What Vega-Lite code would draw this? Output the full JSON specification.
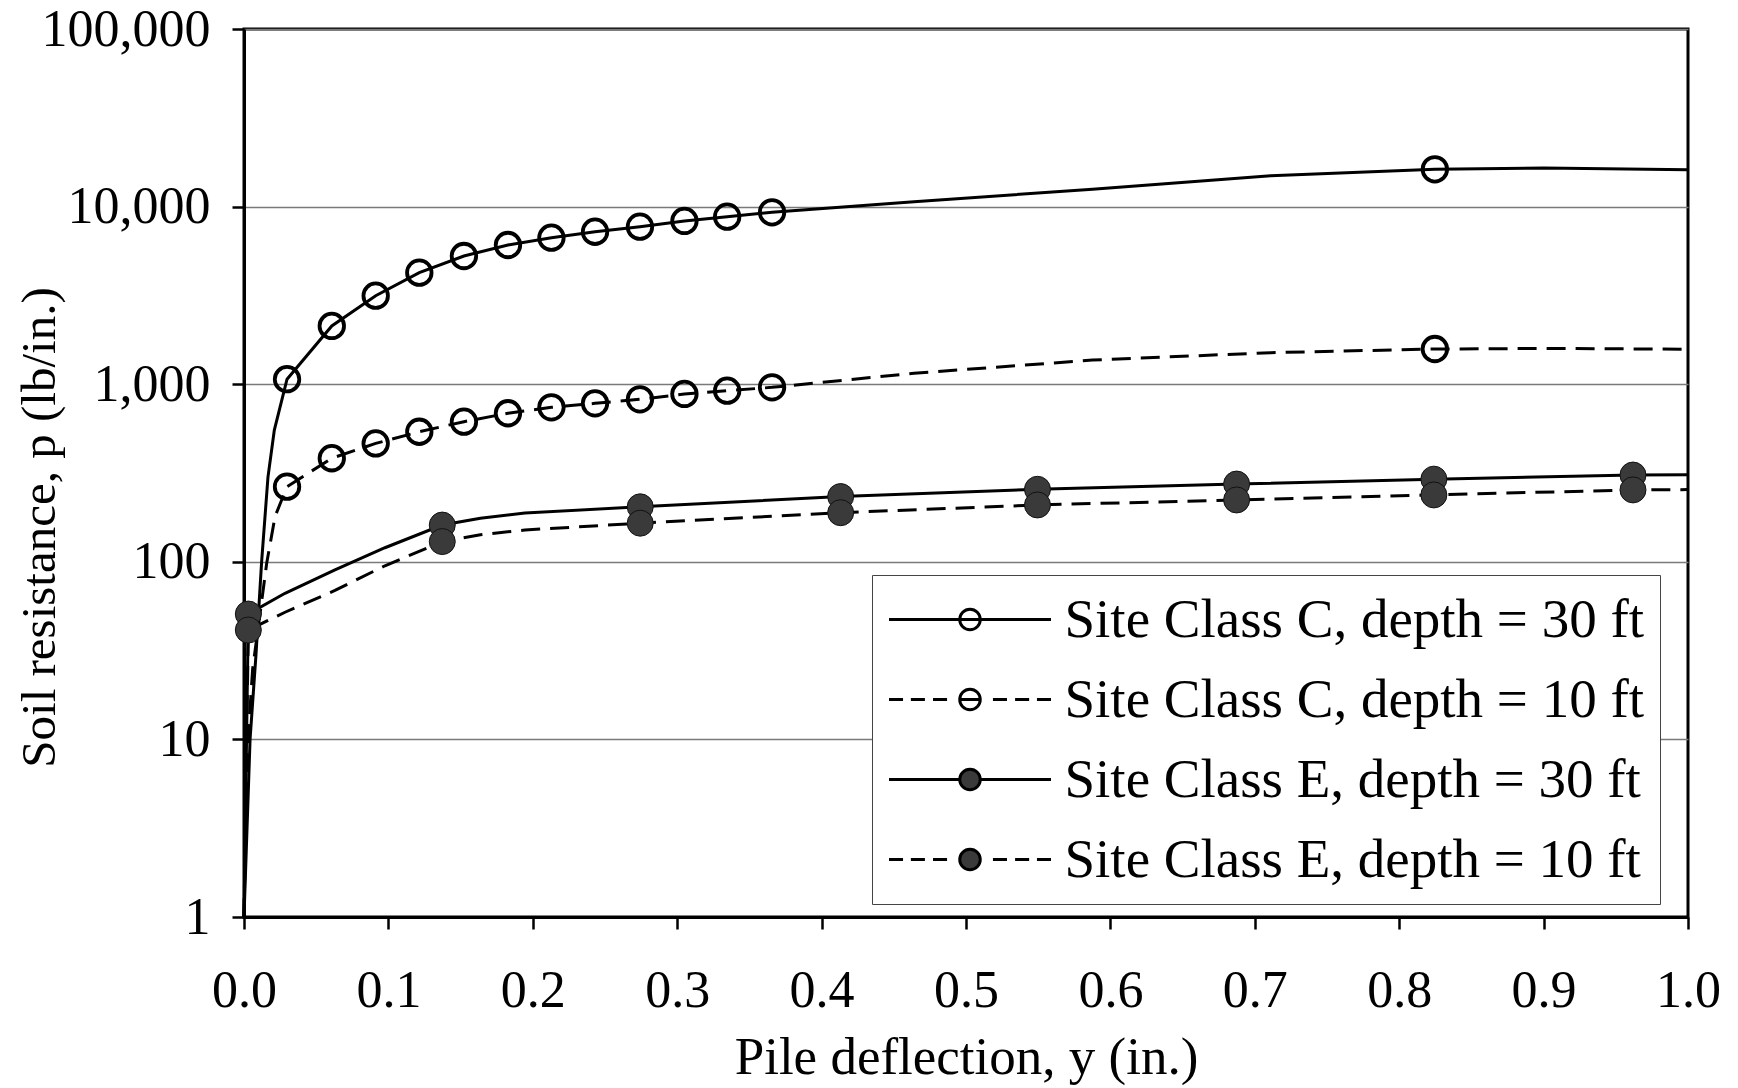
{
  "$schema": "https://vega.github.io/schema/vega-lite/v6.json",
  "width": 1444,
  "height": 888,
  "autosize": {"type": "none"},
  "padding": {"left": 244, "top": 29, "right": 50, "bottom": 171},
  "background": "white",
  "config": {
    "view": {"stroke": "black", "strokeWidth": 3},
    "font": "Liberation Serif",
    "axis": {
      "labelFont": "Liberation Serif",
      "titleFont": "Liberation Serif",
      "labelColor": "black",
      "titleColor": "black",
      "titleFontWeight": "normal",
      "domainColor": "black",
      "domainWidth": 3,
      "tickColor": "black",
      "tickWidth": 2.5,
      "tickSize": 12,
      "labelOverlap": false,
      "labelFlush": false
    },
    "legend": {
      "title": null,
      "orient": "none",
      "legendX": 628,
      "legendY": 546,
      "padding": 16,
      "rowPadding": 23,
      "labelOffset": 66,
      "symbolOffset": 53.5,
      "labelFontSize": 55,
      "labelFont": "Liberation Serif",
      "labelColor": "black",
      "labelLimit": 0,
      "symbolSize": 2916,
      "symbolStrokeWidth": 3,
      "symbolStrokeColor": "black",
      "strokeColor": "#444",
      "fillColor": "white"
    }
  },
  "data": {
    "values": [
      {"s": "Site Class C, depth = 30 ft", "c": "C", "d": 30, "x": 0, "p": 1, "m": 0},
      {"s": "Site Class C, depth = 30 ft", "c": "C", "d": 30, "x": 0.0042, "p": 10, "m": 0},
      {"s": "Site Class C, depth = 30 ft", "c": "C", "d": 30, "x": 0.0083, "p": 30, "m": 0},
      {"s": "Site Class C, depth = 30 ft", "c": "C", "d": 30, "x": 0.0122, "p": 100, "m": 0},
      {"s": "Site Class C, depth = 30 ft", "c": "C", "d": 30, "x": 0.0166, "p": 300, "m": 0},
      {"s": "Site Class C, depth = 30 ft", "c": "C", "d": 30, "x": 0.021, "p": 552, "m": 0},
      {"s": "Site Class C, depth = 30 ft", "c": "C", "d": 30, "x": 0.0298, "p": 1067, "m": 1},
      {"s": "Site Class C, depth = 30 ft", "c": "C", "d": 30, "x": 0.0608, "p": 2128, "m": 1},
      {"s": "Site Class C, depth = 30 ft", "c": "C", "d": 30, "x": 0.0912, "p": 3150, "m": 1},
      {"s": "Site Class C, depth = 30 ft", "c": "C", "d": 30, "x": 0.1214, "p": 4245, "m": 1},
      {"s": "Site Class C, depth = 30 ft", "c": "C", "d": 30, "x": 0.1523, "p": 5270, "m": 1},
      {"s": "Site Class C, depth = 30 ft", "c": "C", "d": 30, "x": 0.1828, "p": 6080, "m": 1},
      {"s": "Site Class C, depth = 30 ft", "c": "C", "d": 30, "x": 0.2129, "p": 6680, "m": 1},
      {"s": "Site Class C, depth = 30 ft", "c": "C", "d": 30, "x": 0.2431, "p": 7220, "m": 1},
      {"s": "Site Class C, depth = 30 ft", "c": "C", "d": 30, "x": 0.2742, "p": 7710, "m": 1},
      {"s": "Site Class C, depth = 30 ft", "c": "C", "d": 30, "x": 0.305, "p": 8300, "m": 1},
      {"s": "Site Class C, depth = 30 ft", "c": "C", "d": 30, "x": 0.3346, "p": 8780, "m": 1},
      {"s": "Site Class C, depth = 30 ft", "c": "C", "d": 30, "x": 0.3657, "p": 9290, "m": 1},
      {"s": "Site Class C, depth = 30 ft", "c": "C", "d": 30, "x": 0.464, "p": 10660, "m": 0},
      {"s": "Site Class C, depth = 30 ft", "c": "C", "d": 30, "x": 0.5876, "p": 12510, "m": 0},
      {"s": "Site Class C, depth = 30 ft", "c": "C", "d": 30, "x": 0.711, "p": 14930, "m": 0},
      {"s": "Site Class C, depth = 30 ft", "c": "C", "d": 30, "x": 0.8247, "p": 16220, "m": 1},
      {"s": "Site Class C, depth = 30 ft", "c": "C", "d": 30, "x": 0.9, "p": 16500, "m": 0},
      {"s": "Site Class C, depth = 30 ft", "c": "C", "d": 30, "x": 1.0, "p": 16100, "m": 0},

      {"s": "Site Class C, depth = 10 ft", "c": "C", "d": 10, "x": 0, "p": 1, "m": 0},
      {"s": "Site Class C, depth = 10 ft", "c": "C", "d": 10, "x": 0.002, "p": 8, "m": 0},
      {"s": "Site Class C, depth = 10 ft", "c": "C", "d": 10, "x": 0.006, "p": 25, "m": 0},
      {"s": "Site Class C, depth = 10 ft", "c": "C", "d": 10, "x": 0.0111, "p": 51, "m": 0},
      {"s": "Site Class C, depth = 10 ft", "c": "C", "d": 10, "x": 0.0157, "p": 98, "m": 0},
      {"s": "Site Class C, depth = 10 ft", "c": "C", "d": 10, "x": 0.0215, "p": 180, "m": 0},
      {"s": "Site Class C, depth = 10 ft", "c": "C", "d": 10, "x": 0.0298, "p": 265, "m": 1},
      {"s": "Site Class C, depth = 10 ft", "c": "C", "d": 10, "x": 0.0608, "p": 383, "m": 1},
      {"s": "Site Class C, depth = 10 ft", "c": "C", "d": 10, "x": 0.0912, "p": 464, "m": 1},
      {"s": "Site Class C, depth = 10 ft", "c": "C", "d": 10, "x": 0.1214, "p": 540, "m": 1},
      {"s": "Site Class C, depth = 10 ft", "c": "C", "d": 10, "x": 0.1523, "p": 615, "m": 1},
      {"s": "Site Class C, depth = 10 ft", "c": "C", "d": 10, "x": 0.1828, "p": 686, "m": 1},
      {"s": "Site Class C, depth = 10 ft", "c": "C", "d": 10, "x": 0.2129, "p": 741, "m": 1},
      {"s": "Site Class C, depth = 10 ft", "c": "C", "d": 10, "x": 0.2431, "p": 780, "m": 1},
      {"s": "Site Class C, depth = 10 ft", "c": "C", "d": 10, "x": 0.2742, "p": 822, "m": 1},
      {"s": "Site Class C, depth = 10 ft", "c": "C", "d": 10, "x": 0.305, "p": 881, "m": 1},
      {"s": "Site Class C, depth = 10 ft", "c": "C", "d": 10, "x": 0.3346, "p": 919, "m": 1},
      {"s": "Site Class C, depth = 10 ft", "c": "C", "d": 10, "x": 0.3657, "p": 960, "m": 1},
      {"s": "Site Class C, depth = 10 ft", "c": "C", "d": 10, "x": 0.464, "p": 1152, "m": 0},
      {"s": "Site Class C, depth = 10 ft", "c": "C", "d": 10, "x": 0.5876, "p": 1368, "m": 0},
      {"s": "Site Class C, depth = 10 ft", "c": "C", "d": 10, "x": 0.711, "p": 1505, "m": 0},
      {"s": "Site Class C, depth = 10 ft", "c": "C", "d": 10, "x": 0.8247, "p": 1578, "m": 1},
      {"s": "Site Class C, depth = 10 ft", "c": "C", "d": 10, "x": 0.9, "p": 1590, "m": 0},
      {"s": "Site Class C, depth = 10 ft", "c": "C", "d": 10, "x": 1.0, "p": 1575, "m": 0},

      {"s": "Site Class E, depth = 30 ft", "c": "E", "d": 30, "x": 0, "p": 1, "m": 0},
      {"s": "Site Class E, depth = 30 ft", "c": "E", "d": 30, "x": 0.003, "p": 50.8, "m": 1},
      {"s": "Site Class E, depth = 30 ft", "c": "E", "d": 30, "x": 0.0284, "p": 66.5, "m": 0},
      {"s": "Site Class E, depth = 30 ft", "c": "E", "d": 30, "x": 0.063, "p": 90, "m": 0},
      {"s": "Site Class E, depth = 30 ft", "c": "E", "d": 30, "x": 0.0976, "p": 120, "m": 0},
      {"s": "Site Class E, depth = 30 ft", "c": "E", "d": 30, "x": 0.1373, "p": 161, "m": 1},
      {"s": "Site Class E, depth = 30 ft", "c": "E", "d": 30, "x": 0.1637, "p": 176, "m": 0},
      {"s": "Site Class E, depth = 30 ft", "c": "E", "d": 30, "x": 0.1946, "p": 188, "m": 0},
      {"s": "Site Class E, depth = 30 ft", "c": "E", "d": 30, "x": 0.2744, "p": 204, "m": 1},
      {"s": "Site Class E, depth = 30 ft", "c": "E", "d": 30, "x": 0.4132, "p": 233, "m": 1},
      {"s": "Site Class E, depth = 30 ft", "c": "E", "d": 30, "x": 0.5495, "p": 256, "m": 1},
      {"s": "Site Class E, depth = 30 ft", "c": "E", "d": 30, "x": 0.6874, "p": 274, "m": 1},
      {"s": "Site Class E, depth = 30 ft", "c": "E", "d": 30, "x": 0.824, "p": 292, "m": 1},
      {"s": "Site Class E, depth = 30 ft", "c": "E", "d": 30, "x": 0.9619, "p": 308, "m": 1},
      {"s": "Site Class E, depth = 30 ft", "c": "E", "d": 30, "x": 1.0, "p": 309, "m": 0},

      {"s": "Site Class E, depth = 10 ft", "c": "E", "d": 10, "x": 0, "p": 1, "m": 0},
      {"s": "Site Class E, depth = 10 ft", "c": "E", "d": 10, "x": 0.003, "p": 41.3, "m": 1},
      {"s": "Site Class E, depth = 10 ft", "c": "E", "d": 10, "x": 0.0284, "p": 52, "m": 0},
      {"s": "Site Class E, depth = 10 ft", "c": "E", "d": 10, "x": 0.063, "p": 69, "m": 0},
      {"s": "Site Class E, depth = 10 ft", "c": "E", "d": 10, "x": 0.0976, "p": 95, "m": 0},
      {"s": "Site Class E, depth = 10 ft", "c": "E", "d": 10, "x": 0.1373, "p": 130, "m": 1},
      {"s": "Site Class E, depth = 10 ft", "c": "E", "d": 10, "x": 0.1637, "p": 142, "m": 0},
      {"s": "Site Class E, depth = 10 ft", "c": "E", "d": 10, "x": 0.1946, "p": 151, "m": 0},
      {"s": "Site Class E, depth = 10 ft", "c": "E", "d": 10, "x": 0.2744, "p": 165, "m": 1},
      {"s": "Site Class E, depth = 10 ft", "c": "E", "d": 10, "x": 0.4132, "p": 189, "m": 1},
      {"s": "Site Class E, depth = 10 ft", "c": "E", "d": 10, "x": 0.5495, "p": 209, "m": 1},
      {"s": "Site Class E, depth = 10 ft", "c": "E", "d": 10, "x": 0.6874, "p": 223, "m": 1},
      {"s": "Site Class E, depth = 10 ft", "c": "E", "d": 10, "x": 0.824, "p": 238, "m": 1},
      {"s": "Site Class E, depth = 10 ft", "c": "E", "d": 10, "x": 0.9619, "p": 254, "m": 1},
      {"s": "Site Class E, depth = 10 ft", "c": "E", "d": 10, "x": 1.0, "p": 255, "m": 0}
    ]
  },
  "encoding": {
    "x": {
      "field": "x",
      "type": "quantitative",
      "scale": {"domain": [0, 1], "nice": false, "zero": false},
      "axis": {
        "values": [0, 0.1, 0.2, 0.3, 0.4, 0.5, 0.6, 0.7, 0.8, 0.9, 1.0],
        "format": ".1f",
        "grid": false,
        "labelFontSize": 52,
        "labelBaseline": "alphabetic",
        "labelPadding": 77,
        "title": "Pile deflection, y (in.)",
        "titleFontSize": 53,
        "titleBaseline": "alphabetic",
        "titleY": 156
      }
    },
    "y": {
      "field": "p",
      "type": "quantitative",
      "scale": {"type": "log", "domain": [1, 100000], "nice": false},
      "axis": {
        "values": [1, 10, 100, 1000, 10000, 100000],
        "format": ",",
        "grid": true,
        "gridColor": "#7a7a7a",
        "gridWidth": 1.5,
        "labelFontSize": 52,
        "labelPadding": 22,
        "title": "Soil resistance, p (lb/in.)",
        "titleFontSize": 49,
        "titleX": -205,
        "titleY": 498,
        "titleBaseline": "middle",
        "titleAlign": "center"
      }
    }
  },
  "layer": [
    {
      "transform": [{"filter": "datum.d == 30"}],
      "mark": {"type": "line", "color": "black", "strokeWidth": 3},
      "encoding": {
        "detail": {"field": "s", "type": "nominal"},
        "order": {"field": "x", "type": "quantitative"}
      }
    },
    {
      "transform": [{"filter": "datum.d == 10"}],
      "mark": {"type": "line", "color": "black", "strokeWidth": 3, "strokeDash": [19, 10]},
      "encoding": {
        "detail": {"field": "s", "type": "nominal"},
        "order": {"field": "x", "type": "quantitative"}
      }
    },
    {
      "transform": [{"filter": "datum.m == 1 && datum.c == 'C'"}],
      "mark": {"type": "point", "shape": "circle", "stroke": "black", "strokeWidth": 3.8, "size": 600, "opacity": 1, "fillOpacity": 1, "strokeOpacity": 1},
      "encoding": {
        "fill": {
          "field": "s",
          "type": "nominal",
          "scale": {
            "domain": ["Site Class C, depth = 30 ft", "Site Class C, depth = 10 ft", "Site Class E, depth = 30 ft", "Site Class E, depth = 10 ft"],
            "range": ["transparent", "transparent", "#3a3a3a", "#3a3a3a"]
          },
          "legend": {"title": null, "symbolStrokeWidth": 3, "symbolStrokeColor": "black", "encode": {"symbols": {"strokeWidth": {"value": 3}}}}
        }
      }
    },
    {
      "transform": [{"filter": "datum.m == 1 && datum.c == 'E'"}],
      "mark": {"type": "point", "shape": "circle", "stroke": "#111", "strokeWidth": 1, "size": 676, "opacity": 1, "fillOpacity": 1, "strokeOpacity": 1},
      "encoding": {
        "fill": {
          "field": "s",
          "type": "nominal",
          "scale": {
            "domain": ["Site Class C, depth = 30 ft", "Site Class C, depth = 10 ft", "Site Class E, depth = 30 ft", "Site Class E, depth = 10 ft"],
            "range": ["transparent", "transparent", "#3a3a3a", "#3a3a3a"]
          },
          "legend": {"title": null, "symbolStrokeWidth": 3, "symbolStrokeColor": "black", "encode": {"symbols": {"strokeWidth": {"value": 3}}}}
        }
      }
    },
    {
      "transform": [{"filter": "datum.m == 2"}],
      "mark": {"type": "point", "stroke": "black", "strokeWidth": 3, "opacity": 1, "fillOpacity": 1, "strokeOpacity": 1},
      "encoding": {
        "fill": {
          "field": "s",
          "type": "nominal",
          "scale": {
            "domain": ["Site Class C, depth = 30 ft", "Site Class C, depth = 10 ft", "Site Class E, depth = 30 ft", "Site Class E, depth = 10 ft"],
            "range": ["transparent", "transparent", "#3a3a3a", "#3a3a3a"]
          },
          "legend": {"title": null, "symbolStrokeWidth": 3, "symbolStrokeColor": "black", "encode": {"symbols": {"strokeWidth": {"value": 3}}}}
        },
        "shape": {
          "field": "s",
          "type": "nominal",
          "scale": {
            "domain": ["Site Class C, depth = 30 ft", "Site Class C, depth = 10 ft", "Site Class E, depth = 30 ft", "Site Class E, depth = 10 ft"],
            "range": [
              "M-3,0H3M0.38,0A0.38,0.38 0 1,1 -0.38,0A0.38,0.38 0 1,1 0.38,0Z",
              "M-3,0H-2.48M-2.19,0H-1.67M-1.37,0H-0.85M-0.41,0H0.41M0.85,0H1.37M1.67,0H2.19M2.48,0H3M0.38,0A0.38,0.38 0 1,1 -0.38,0A0.38,0.38 0 1,1 0.38,0Z",
              "M-3,0H-0.38M0.38,0H3M0.38,0A0.38,0.38 0 1,1 -0.38,0A0.38,0.38 0 1,1 0.38,0Z",
              "M-3,0H-2.48M-2.19,0H-1.67M-1.37,0H-0.85M0.85,0H1.37M1.67,0H2.19M2.48,0H3M0.38,0A0.38,0.38 0 1,1 -0.38,0A0.38,0.38 0 1,1 0.38,0Z"
            ]
          },
          "legend": {"title": null, "symbolStrokeWidth": 3, "symbolStrokeColor": "black", "encode": {"symbols": {"strokeWidth": {"value": 3}}}}
        }
      }
    }
  ]
}
